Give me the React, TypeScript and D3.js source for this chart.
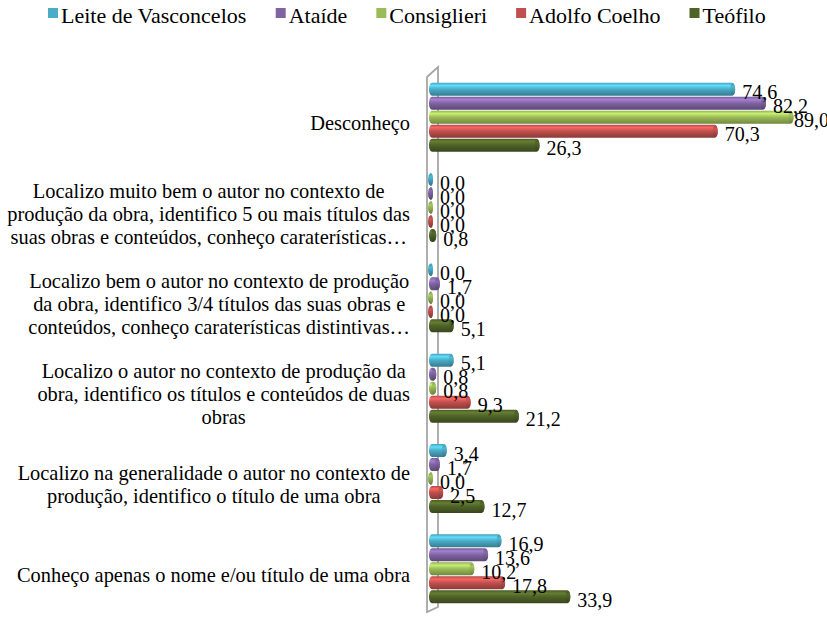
import React from "react";
import * as d3 from "d3";

const categories: string[][] = [
  ["Desconheço"],
  [
    "Localizo muito bem o autor no contexto de",
    "produção da obra, identifico 5 ou mais títulos das",
    "suas obras e conteúdos, conheço caraterísticas…",
  ],
  [
    "Localizo bem o autor no contexto de produção",
    "da obra, identifico 3/4 títulos das suas obras e",
    "conteúdos, conheço caraterísticas distintivas…",
  ],
  [
    "Localizo o autor no contexto de produção da",
    "obra, identifico os títulos e conteúdos de duas",
    "obras",
  ],
  [
    "Localizo na generalidade o autor no contexto de",
    "produção, identifico o título de uma obra",
  ],
  ["Conheço apenas o nome e/ou título de uma obra"],
];

const seriesNames = ["Leite de Vasconcelos", "Ataíde", "Consiglieri", "Adolfo Coelho", "Teófilo"];
const seriesColors = ["#4bacc6", "#8064a2", "#9bbb59", "#c0504d", "#4f6228"];

const leiteValues = [74.6, 0.0, 0.0, 5.1, 3.4, 16.9];
const ataideValues = [82.2, 0.0, 1.7, 0.8, 1.7, 13.6];
const consiglieriValues = [89.0, 0.0, 0.0, 0.8, 0.0, 10.2];
const adolfoValues = [70.3, 0.0, 0.0, 9.3, 2.5, 17.8];
const teofiloValues = [26.3, 0.8, 5.1, 21.2, 12.7, 33.9];

const seriesValues = [leiteValues, ataideValues, consiglieriValues, adolfoValues, teofiloValues];

const W = 827;
const H = 618;
const FONT = "Liberation Serif";
const CAT_SIZE = 20.4;
const VAL_SIZE = 20;
const LEG_SIZE = 22;

let ctx: CanvasRenderingContext2D | null = null;
function measure(text: string, size: number): number {
  if (!ctx) {
    const c = document.createElement("canvas");
    ctx = c.getContext("2d");
  }
  if (!ctx) return text.length * size * 0.45;
  ctx.font = `${size}px "Liberation Serif", serif`;
  return ctx.measureText(text).width;
}

export default function App() {
  const x = d3.scaleLinear().domain([0, 100]).range([431, 836]);
  const catIdx = categories.map((_, i) => String(i));
  const y = d3.scaleBand<string>().domain(catIdx).range([72, 614]).padding(0);
  const inner = d3.scaleBand<string>().domain(seriesNames).range([-35, 35]).padding(0);
  const bh = 13;
  const top = 72;
  const bottom = 614;

  const barCy = (s: number, ci: number) =>
    y(String(ci))! + y.bandwidth() / 2 + inner(seriesNames[s])! + inner.bandwidth() / 2;

  // legend layout
  const legendItems: { x: number; name: string; color: string }[] = [];
  let lx = 48;
  seriesNames.forEach((n, i) => {
    legendItems.push({ x: lx, name: n, color: seriesColors[i] });
    lx += 13 + measure(n, LEG_SIZE) + 29;
  });

  return (
    <svg
      width={W}
      height={H}
      style={{ position: "absolute", left: 0, top: 0, background: "#fff", display: "block" }}
    >
      <defs>
        {seriesColors.map((c, i) => {
          const base = d3.color(c)!;
          return (
            <React.Fragment key={i}>
              <linearGradient id={"grad" + i} x1={0} y1={0} x2={0} y2={1}>
                <stop offset="0%" stopColor={base.darker(0.2).formatHex()} />
                <stop offset="22%" stopColor={base.brighter(0.7).formatHex()} />
                <stop offset="50%" stopColor={base.formatHex()} />
                <stop offset="100%" stopColor={base.darker(0.9).formatHex()} />
              </linearGradient>
              <linearGradient id={"cap" + i} x1={0} y1={0} x2={0} y2={1}>
                <stop offset="0%" stopColor={base.darker(0.4).formatHex()} />
                <stop offset="30%" stopColor={base.brighter(0.2).formatHex()} />
                <stop offset="100%" stopColor={base.darker(1.1).formatHex()} />
              </linearGradient>
            </React.Fragment>
          );
        })}
      </defs>

      {/* wall */}
      <path
        d={`M427,${top + 5} L427,${bottom - 2} L438,${bottom - 7} L438,${top - 5} Z`}
        fill="none"
        stroke="#a6a6a6"
        strokeWidth={1.8}
      />

      {/* bars */}
      {seriesValues.map((vals, s) =>
        vals.map((v, ci) => {
          const cy = barCy(s, ci);
          const x0 = x(0) - 2;
          const x1 = x(v) + 2;
          return (
            <g key={`b${s}-${ci}`}>
              <rect
                x={x0}
                y={cy - bh / 2}
                width={Math.max(x1 - x0, 4)}
                height={bh}
                rx={3}
                ry={6}
                fill={`url(#grad${s})`}
              />
              <ellipse cx={x1 - 2.5} cy={cy} rx={2.5} ry={bh / 2 - 0.5} fill={`url(#cap${s})`} />
            </g>
          );
        })
      )}

      {/* value labels */}
      {seriesValues.map((vals, s) =>
        vals.map((v, ci) => {
          const label = v.toFixed(1).replace(".", ",");
          const w = measure(label, VAL_SIZE);
          const lxv = Math.min(x(v) + 9, W - w + 2);
          return (
            <text
              key={`v${s}-${ci}`}
              x={lxv}
              y={barCy(s, ci) + 10}
              fontSize={VAL_SIZE}
              style={{ fontFamily: FONT }}
              fill="#000"
            >
              {label}
            </text>
          );
        })
      )}

      {/* category labels */}
      {categories.map((lines, ci) => {
        const cy = y(String(ci))! + y.bandwidth() / 2 + 7;
        const lh = 23;
        const maxW = Math.max(...lines.map((l) => measure(l, CAT_SIZE)));
        const cx = 410 - maxW / 2;
        return (
          <text key={`c${ci}`} fontSize={CAT_SIZE} style={{ fontFamily: FONT }} fill="#000" textAnchor="middle">
            {lines.map((ln, li) => (
              <tspan key={li} x={cx} y={cy + 6 + (li - (lines.length - 1) / 2) * lh}>
                {ln}
              </tspan>
            ))}
          </text>
        );
      })}

      {/* legend */}
      {legendItems.map((it, i) => (
        <g key={`l${i}`}>
          <rect x={it.x} y={8} width={10} height={10} fill={it.color} />
          <text x={it.x + 13} y={23} fontSize={LEG_SIZE} style={{ fontFamily: FONT }} fill="#000">
            {it.name}
          </text>
        </g>
      ))}
    </svg>
  );
}
